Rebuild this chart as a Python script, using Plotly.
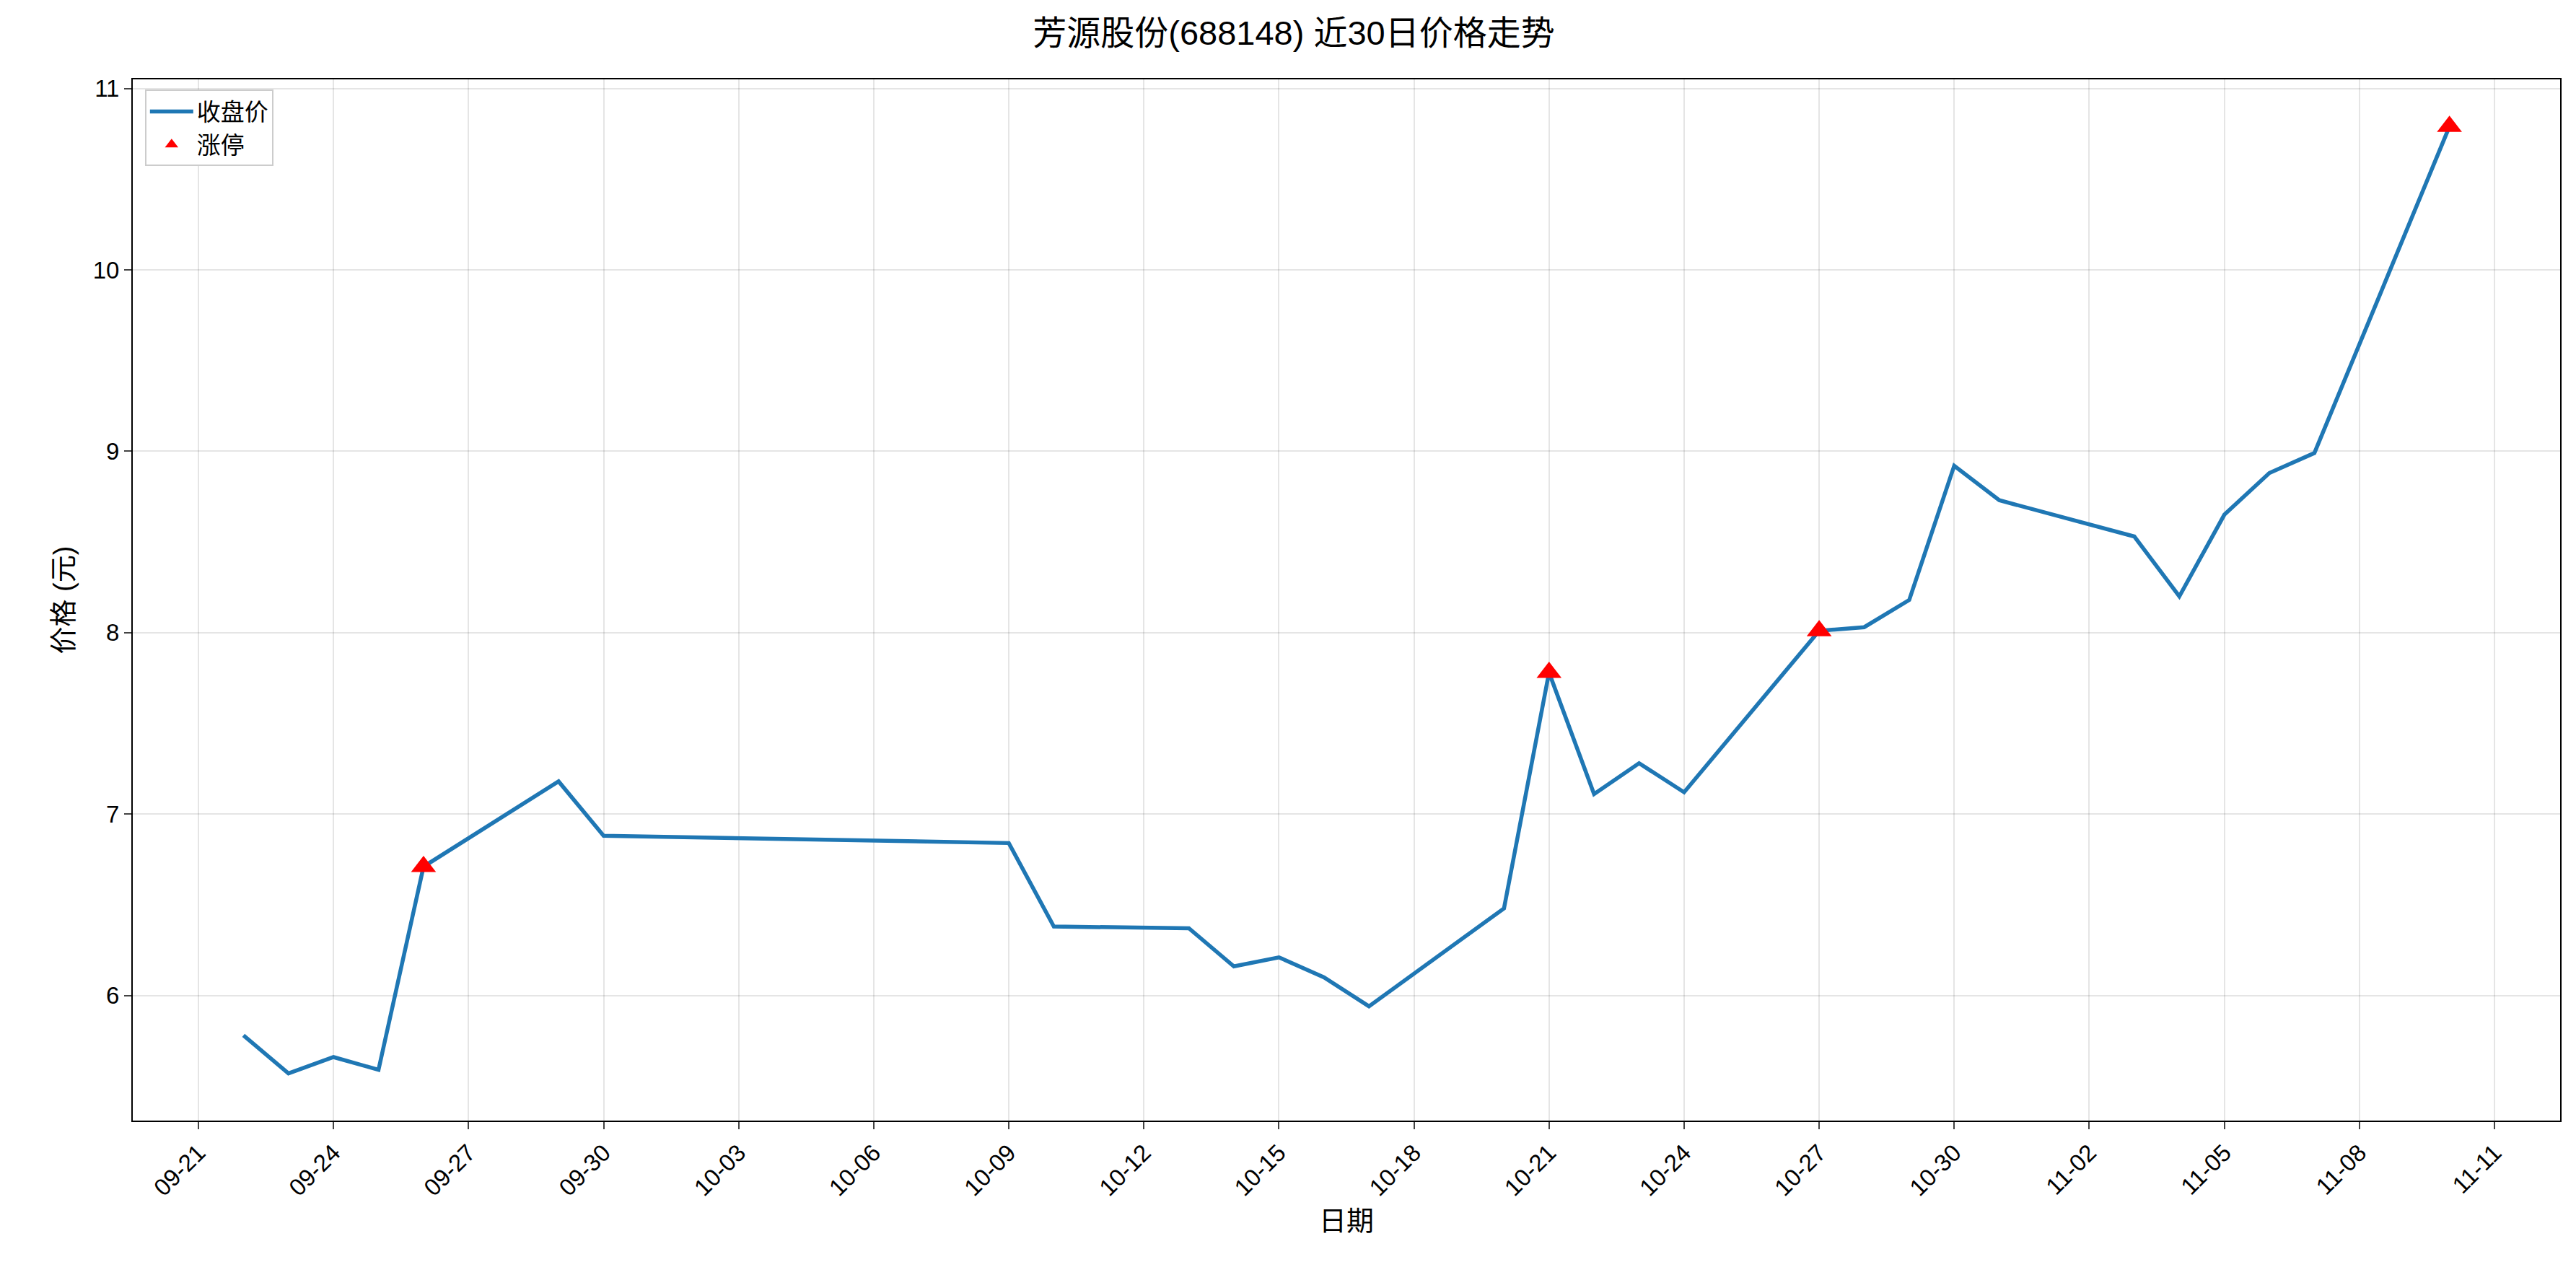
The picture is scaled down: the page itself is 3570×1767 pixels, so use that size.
import plotly.graph_objects as go
import pandas as pd

dates = ["2025-09-22","2025-09-23","2025-09-24","2025-09-25","2025-09-26","2025-09-29","2025-09-30",
         "2025-10-09","2025-10-10","2025-10-13","2025-10-14","2025-10-15","2025-10-16","2025-10-17",
         "2025-10-20","2025-10-21","2025-10-22","2025-10-23","2025-10-24","2025-10-27","2025-10-28",
         "2025-10-29","2025-10-30","2025-10-31","2025-11-03","2025-11-04","2025-11-05","2025-11-06",
         "2025-11-07","2025-11-10"]
close = [5.78,5.57,5.66,5.59,6.71,7.18,6.88,6.84,6.38,6.37,6.16,6.21,6.10,5.94,6.48,7.78,7.11,7.28,
         7.12,8.01,8.03,8.18,8.92,8.73,8.53,8.20,8.65,8.88,8.99,10.79]
limit_dates = ["2025-09-26","2025-10-21","2025-10-27","2025-11-10"]
limit_prices = [6.71,7.78,8.01,10.79]
tick_dates = pd.date_range("2025-09-21","2025-11-11",freq="3D")
tick_labels = [d.strftime("%m-%d") for d in tick_dates]

font = "Liberation Sans, Noto Sans CJK SC"
fig = go.Figure()
fig.add_trace(go.Scatter(x=dates, y=close, mode="lines", name="收盘价",
                         line=dict(color="#1f77b4", width=5.5)))
fig.add_trace(go.Scatter(x=limit_dates, y=limit_prices, mode="markers", name="涨停",
                         marker=dict(symbol="triangle-up", color="red", size=30)))
fig.update_layout(
    width=3570, height=1767, plot_bgcolor="white", paper_bgcolor="white",
    margin=dict(l=176, r=30, t=102, b=222),
    font=dict(family=font, size=33, color="black"),
    title=dict(text="芳源股份(688148) 近30日价格走势", x=0.5, xanchor="center", y=0.988, yanchor="top",
               font=dict(size=47)),
    legend=dict(x=0.005, y=0.99, xanchor="left", yanchor="top", bordercolor="#cccccc", borderwidth=2,
                bgcolor="white", font=dict(size=33), itemwidth=60),
    xaxis=dict(title=dict(text="日期", font=dict(size=38)), type="date",
               range=["2025-09-19 13:00","2025-11-12 11:00"],
               tickvals=list(tick_dates), ticktext=tick_labels, tickangle=-45,
               showgrid=True, gridcolor="rgba(0,0,0,0.1)", gridwidth=2,
               showline=True, linecolor="black", linewidth=2, mirror=True,
               ticks="outside", ticklen=10, tickwidth=2),
    yaxis=dict(title=dict(text="价格 (元)", font=dict(size=38)), range=[5.31,11.05],
               dtick=1, showgrid=True, gridcolor="rgba(0,0,0,0.1)", gridwidth=2,
               showline=True, linecolor="black", linewidth=2, mirror=True,
               ticks="outside", ticklen=10, tickwidth=2, zeroline=False),
)
fig.write_html("out.html")
